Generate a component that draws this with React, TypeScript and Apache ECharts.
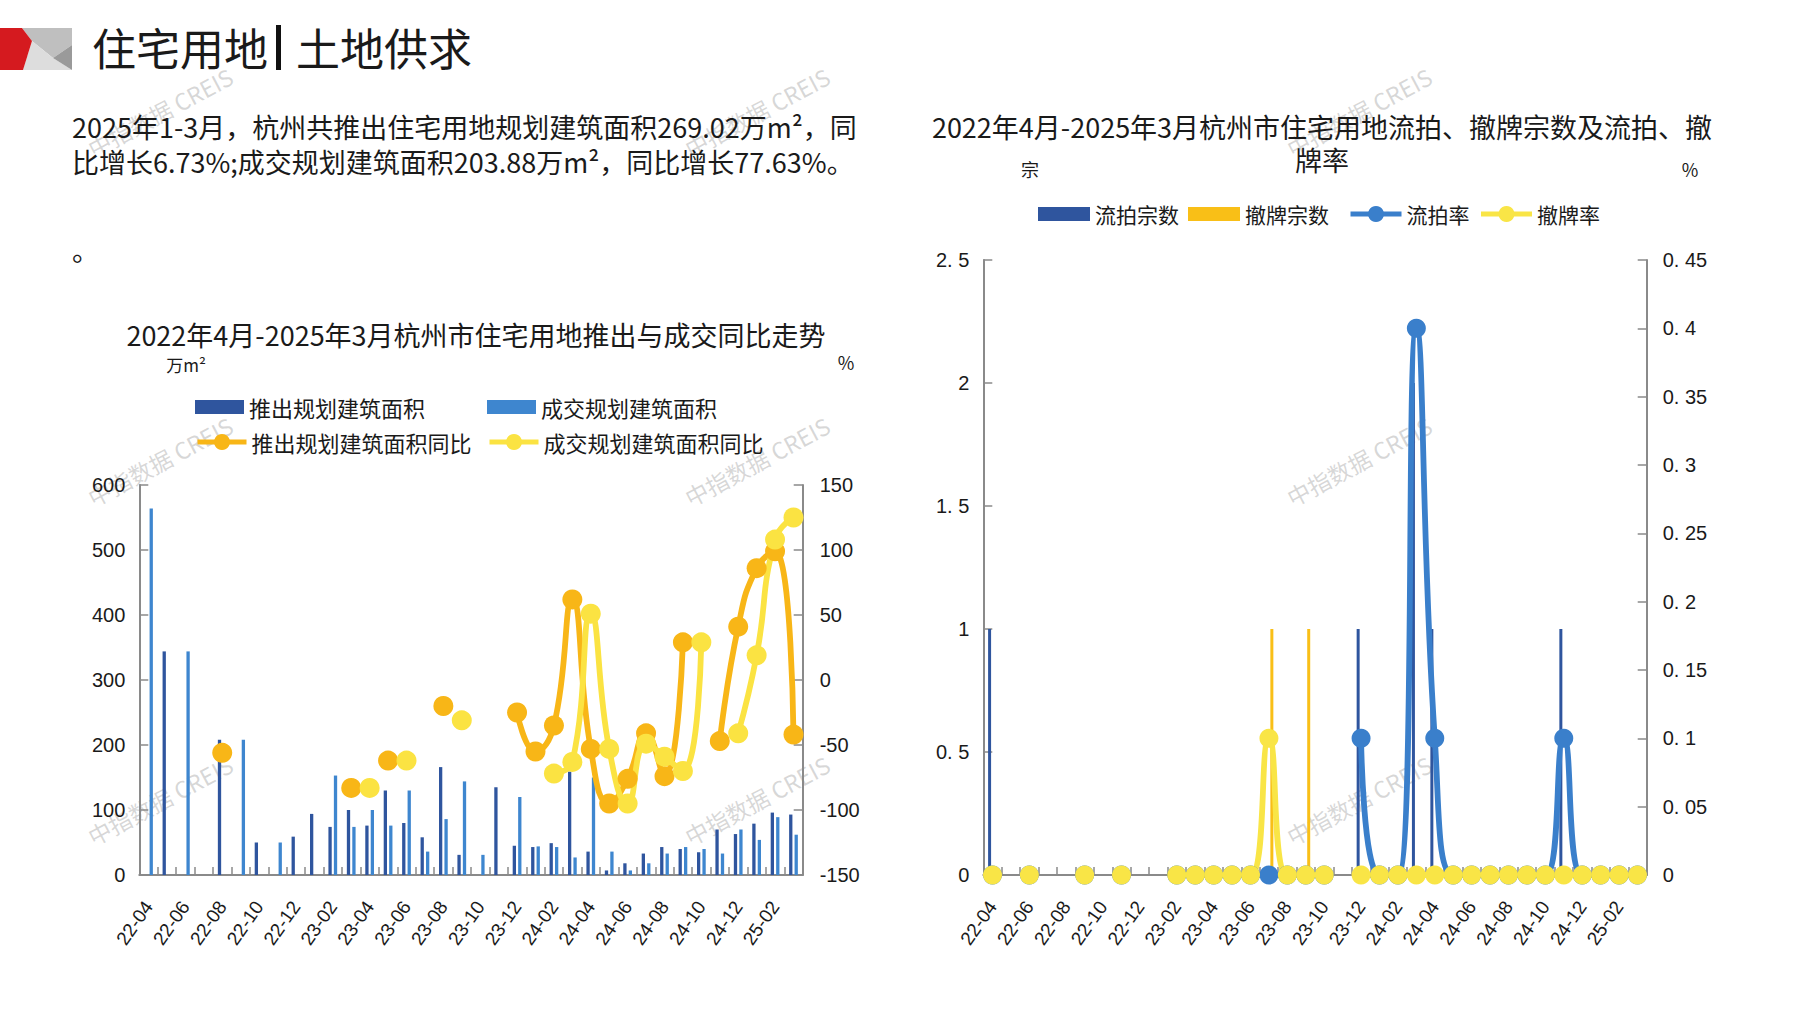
import React, { useEffect, useRef } from 'react';
import * as echarts from 'echarts';

// ---------- data ----------
const months = ['22-04','22-05','22-06','22-07','22-08','22-09','22-10','22-11','22-12','23-01','23-02','23-03','23-04','23-05','23-06','23-07','23-08','23-09','23-10','23-11','23-12','24-01','24-02','24-03','24-04','24-05','24-06','24-07','24-08','24-09','24-10','24-11','24-12','25-01','25-02','25-03'];

const N = null;
// 推出规划建筑面积 (万m²)
const launchArea = [0,344,0,0,208,0,50,0,59,94,74,100,76,130,80,58,166,31,0,135,45,43,49,159,36,7,18,33,43,40,35,70,63,79,96,93];
// 成交规划建筑面积 (万m²)
const dealArea = [564,0,344,0,0,208,0,50,0,0,153,74,100,76,130,36,86,144,31,0,120,44,43,27,150,36,7,18,33,43,40,33,70,54,89,62];
// 推出规划建筑面积同比 (%)
const launchYoY = [N,N,N,N,-56,N,N,N,N,N,N,-83,N,-62,N,N,-20,N,N,N,-25,-55,-35,62,-53,-95,-76,-41,-74,29,N,-47,41,86,99,-42];
// 成交规划建筑面积同比 (%)
const dealYoY = [N,N,N,N,N,N,N,N,N,N,N,N,-83,N,-62,N,N,-31,N,N,N,N,-72,-63,51,-53,-95,-49,-59,-70,29,N,-41,19,108,125];

// 流拍宗数 / 撤牌宗数 (宗)
const failedCount = [1,0,0,0,0,0,0,0,0,0,0,0,0,0,0,0,0,0,0,0,1,0,0,2,1,0,0,0,0,0,0,1,0,0,0,0];
const withdrawnCount = [0,0,0,0,0,0,0,0,0,0,0,0,0,0,0,1,0,1,0,0,0,0,0,0,0,0,0,0,0,0,0,0,0,0,0,0];
// 流拍率 / 撤牌率
const failedRate = [0,N,0,N,N,0,N,0,N,N,0,0,0,0,0,0,0,0,0,N,0.1,0,0,0.4,0.1,0,0,0,0,0,0,0.1,0,0,0,0];
const withdrawnRate = [0,N,0,N,N,0,N,0,N,N,0,0,0,0,0,0.1,0,0,0,N,0,0,0,0,0,0,0,0,0,0,0,0,0,0,0,0];

// axis ranges
const areaAxis = { min: 0, max: 600, interval: 100 };
const yoyAxis = { min: -150, max: 150, interval: 50 };
const countAxis = { min: 0, max: 2.5, interval: 0.5 };
const rateAxis = { min: 0, max: 0.45, interval: 0.05 };

// ---------- styles ----------
const CJK = '"Noto Sans CJK SC", "Noto Sans", sans-serif';
const NUM = '"Liberation Sans", Arial, sans-serif';
const TXT = '#1a1a1a';
const AXIS = '#8a8a8a';
const DARK = '#2F559E';
const LIGHT = '#3E86CF';
const ORANGE = '#F8B617';
const YELLOW = '#FBE342';
const AMBER = '#F9BF17';
const BLUE = '#3A7FCB';
const YELLOW2 = '#F9E546';

const f = (size: number, fam = CJK) => `${size}px ${fam}`;

function txt(text: string, x: number, y: number, size: number, align = 'left', extra: any = {}) {
  return {
    type: 'text',
    x, y,
    z: 10,
    style: {
      text,
      font: f(size),
      fill: TXT,
      textAlign: align,
      align,
      textVerticalAlign: 'middle',
      verticalAlign: 'middle',
      ...extra,
    },
  };
}

function watermark(x: number, y: number) {
  return {
    type: 'text',
    x, y,
    rotation: 0.49,
    z: 0,
    style: {
      text: '中指数据 CREIS',
      font: f(23),
      fill: 'rgba(150,150,150,0.38)',
      textAlign: 'center',
      align: 'center',
      textVerticalAlign: 'middle',
      verticalAlign: 'middle',
    },
  };
}

const rateFmt = (v: number) => String(Math.round(v * 100) / 100).replace('.', '. ');

const xAxisBase = (gridIndex: number) => ({
  type: 'category',
  gridIndex,
  data: months,
  boundaryGap: true,
  axisLine: { show: true, onZero: false, lineStyle: { color: AXIS, width: 2 } },
  axisTick: { show: true, inside: true, length: 8, interval: 0, lineStyle: { color: AXIS, width: 1.5 } },
  axisLabel: { interval: 1, rotate: 55, margin: 28, fontSize: 19, fontFamily: NUM, color: TXT },
  splitLine: { show: false },
});

const yAxisBase = (gridIndex: number, position: string, range: any, margin: number, fmt?: any) => ({
  type: 'value',
  gridIndex,
  position,
  ...range,
  axisLine: { show: true, lineStyle: { color: AXIS, width: 2 } },
  axisTick: { show: true, inside: true, length: 9, lineStyle: { color: AXIS, width: 1.5 } },
  splitLine: { show: false },
  axisLabel: { margin, fontSize: 20, fontFamily: NUM, color: TXT, formatter: fmt },
});

const legendBase = {
  orient: 'horizontal',
  padding: 0,
  itemGap: 9,
  itemWidth: 49,
  itemHeight: 14,
  selectedMode: false,
  textStyle: { fontSize: 22, fontFamily: CJK, color: TXT, lineHeight: 24 },
};

const lineLegend = {
  ...legendBase,
  itemHeight: 20,
  lineStyle: { width: 5 },
};

const lineSeries = (name: string, xi: number, yi: number, data: any[], color: string, size: number) => ({
  name,
  type: 'line',
  xAxisIndex: xi,
  yAxisIndex: yi,
  data,
  smooth: 0.5,
  connectNulls: false,
  symbol: 'circle',
  symbolSize: size,
  showSymbol: true,
  showAllSymbol: true,
  lineStyle: { width: 5.8, color },
  itemStyle: { color },
});

const option: any = {
  animation: false,
  backgroundColor: '#ffffff',
  textStyle: { fontFamily: CJK },
  grid: [
    { left: 139.3, top: 485, width: 663.4, height: 390 },
    { left: 983.3, top: 260, width: 663.4, height: 615 },
  ],
  xAxis: [xAxisBase(0), xAxisBase(1)],
  yAxis: [
    yAxisBase(0, 'left', areaAxis, 14),
    yAxisBase(0, 'right', yoyAxis, 17),
    yAxisBase(1, 'left', countAxis, 14, rateFmt),
    yAxisBase(1, 'right', rateAxis, 16, rateFmt),
  ],
  legend: [
    { ...legendBase, data: [{ name: '推出规划建筑面积', icon: 'rect' }], left: 195, top: 395 },
    { ...legendBase, data: [{ name: '成交规划建筑面积', icon: 'rect' }], left: 487, top: 395 },
    { ...lineLegend, data: ['推出规划建筑面积同比'], left: 195, top: 430 },
    { ...lineLegend, data: ['成交规划建筑面积同比'], left: 487, top: 430 },
    {
      ...legendBase,
      itemWidth: 52,
      textStyle: { fontSize: 21, fontFamily: CJK, color: TXT, lineHeight: 24 },
      data: [{ name: '流拍宗数', icon: 'rect' }, { name: '撤牌宗数', icon: 'rect' }],
      left: 1038,
      top: 202,
    },
    {
      ...lineLegend,
      itemWidth: 51,
      textStyle: { fontSize: 21, fontFamily: CJK, color: TXT, lineHeight: 24 },
      data: ['流拍率', '撤牌率'],
      left: 1348,
      top: 202,
    },
  ],
  series: [
    { name: '推出规划建筑面积', type: 'bar', xAxisIndex: 0, yAxisIndex: 0, data: launchArea, barWidth: 3.3, barGap: '65%', itemStyle: { color: DARK } },
    { name: '成交规划建筑面积', type: 'bar', xAxisIndex: 0, yAxisIndex: 0, data: dealArea, barWidth: 3.3, barGap: '65%', itemStyle: { color: LIGHT } },
    lineSeries('推出规划建筑面积同比', 0, 1, launchYoY, ORANGE, 20),
    lineSeries('成交规划建筑面积同比', 0, 1, dealYoY, YELLOW, 20),
    { name: '流拍宗数', type: 'bar', xAxisIndex: 1, yAxisIndex: 2, data: failedCount, barWidth: 3, barGap: '95%', itemStyle: { color: DARK } },
    { name: '撤牌宗数', type: 'bar', xAxisIndex: 1, yAxisIndex: 2, data: withdrawnCount, barWidth: 3, barGap: '95%', itemStyle: { color: AMBER } },
    lineSeries('流拍率', 1, 3, failedRate, BLUE, 19),
    lineSeries('撤牌率', 1, 3, withdrawnRate, YELLOW2, 19),
  ],
  graphic: {
    elements: [
      // watermarks
      watermark(160, 112), watermark(757, 112), watermark(1359, 112),
      watermark(160, 461), watermark(757, 461), watermark(1359, 461),
      watermark(160, 800), watermark(757, 800), watermark(1359, 800),
      // logo
      { type: 'polygon', z: 10, shape: { points: [[22, 28], [72, 28], [72, 45], [53, 58], [32, 41]] }, style: { fill: '#BFBFBF' } },
      { type: 'polygon', z: 10, shape: { points: [[32, 41], [53, 58], [72, 70], [23, 70]] }, style: { fill: '#DDDDDD' } },
      { type: 'polygon', z: 11, shape: { points: [[53, 58], [72, 45], [72, 70]] }, style: { fill: '#9A9A9A' } },
      { type: 'polygon', z: 12, shape: { points: [[0, 28], [22, 28], [32, 41], [23, 70], [0, 70]] }, style: { fill: '#D51A1F' } },
      // heading
      txt('住宅用地', 92, 47, 44),
      { type: 'rect', z: 10, shape: { x: 276, y: 25, width: 5, height: 45 }, style: { fill: '#111' } },
      txt('土地供求', 296, 47, 44),
      // body text
      txt('2025年1-3月，杭州共推出住宅用地规划建筑面积269.02万m²，同', 72, 126, 27),
      txt('比增长6.73%;成交规划建筑面积203.88万m²，同比增长77.63%。', 72, 161, 27),
      txt('。', 72, 249, 27),
      // left chart title & units
      txt('2022年4月-2025年3月杭州市住宅用地推出与成交同比走势', 476, 334, 27, 'center'),
      txt('万m²', 186, 364, 17, 'center'),
      txt('%', 846, 362, 18, 'center'),
      // right chart title & units
      txt('2022年4月-2025年3月杭州市住宅用地流拍、撤牌宗数及流拍、撤', 1322, 126, 27, 'center'),
      txt('牌率', 1322, 159, 27, 'center'),
      txt('宗', 1030, 169, 18, 'center'),
      txt('%', 1690, 169, 18, 'center'),
    ],
  },
};

export default function App() {
  const ref = useRef<HTMLDivElement>(null);
  useEffect(() => {
    const chart = echarts.init(ref.current as HTMLDivElement, undefined, { renderer: 'svg' });
    chart.setOption(option);
    return () => chart.dispose();
  }, []);
  return (
    <div
      ref={ref}
      style={{ position: 'fixed', left: 0, top: 0, width: 1797, height: 1010, background: '#ffffff' }}
    />
  );
}
